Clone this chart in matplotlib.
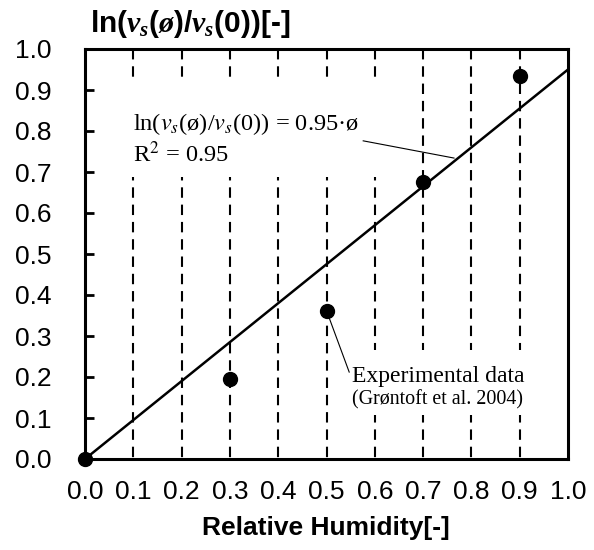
import numpy as np
import matplotlib
matplotlib.use('Agg')
import matplotlib.pyplot as plt
from matplotlib.patches import Rectangle

# datos experimentales (Grontoft et al. 2004)
rh = [0.0, 0.3, 0.5, 0.7, 0.9]
ln_vs = [0.0, 0.195, 0.36, 0.675, 0.935]
pendiente = 0.95  # ajuste lineal ln(vs(ø)/vs(0)) = 0.95·ø
r2 = 0.95
xticks = [0.0, 0.1, 0.2, 0.3, 0.4, 0.5, 0.6, 0.7, 0.8, 0.9, 1.0]
yticks = [0.0, 0.1, 0.2, 0.3, 0.4, 0.5, 0.6, 0.7, 0.8, 0.9, 1.0]

plt.rcParams['font.family'] = 'Liberation Sans'
plt.rcParams['mathtext.fontset'] = 'custom'
plt.rcParams['mathtext.rm'] = 'Liberation Serif:bold'
plt.rcParams['mathtext.it'] = 'Liberation Serif:italic:bold'
plt.rcParams['mathtext.bf'] = 'Liberation Serif:bold'

fig = plt.figure(figsize=(5.94, 5.50), dpi=100)
ax = fig.add_axes([85/594, 1-459/550, 483/594, 410/550])
ax.set_xlim(0, 1)
ax.set_ylim(0, 1)

# lineas verticales a trazos
ax.vlines(xticks[1:-1], 1.0, 0.0, colors='k', linewidth=1.5,
          linestyles=(0, (5, 3.3)), zorder=1)

# fondos blancos de los textos
ax.add_patch(Rectangle((0.083, 0.688), 0.53, 0.236, facecolor='white',
                       edgecolor='none', zorder=2))
ax.add_patch(Rectangle((0.528, 0.107), 0.395, 0.159, facecolor='white',
                       edgecolor='none', zorder=2))

xx = np.array([0.0, 1.0])
ax.plot(xx, pendiente*xx, color='k', linewidth=1.8, zorder=3)
ax.plot(rh, ln_vs, 'o', color='k', markersize=10, clip_on=False, zorder=4)

ax.text(0.10, 0.802, 'ln($v_s$(ø)/$v_s$(0)) = %.2f·ø' % pendiente, fontsize=17.6,
        family='Liberation Serif', math_fontfamily='stix', va='baseline', zorder=5)
ax.text(0.10, 0.724, 'R$^2$ = %.2f' % r2, fontsize=17.6, family='Liberation Serif',
        math_fontfamily='stix', va='baseline', zorder=5)
ax.plot([0.576, 0.764], [0.776, 0.734], color='k', linewidth=0.8, zorder=5)

ax.text(0.553, 0.188, 'Experimental data', fontsize=17, family='Liberation Serif',
        va='baseline', zorder=5)
ax.text(0.553, 0.134, '(Grøntoft et al. 2004)', fontsize=14.4,
        family='Liberation Serif', va='baseline', zorder=5)
ax.plot([0.505, 0.547], [0.346, 0.212], color='k', linewidth=0.8, zorder=5)

for s in ax.spines.values():
    s.set_linewidth(2.2)
ax.set_xticks(xticks)
ax.set_yticks(yticks)
ax.set_xticklabels(['%.1f' % v for v in xticks])
ax.set_yticklabels(['%.1f' % v for v in yticks])
ax.tick_params(axis='x', length=0, pad=15, labelsize=19)
ax.tick_params(axis='y', direction='in', length=6.5, width=2, pad=24, labelsize=19)

fig.text(90/594, 1-32/550, r'ln($v_s$($\mathit{ø}$)/$v_s$(0))[-]', fontsize=21.5,
         fontweight='bold', va='baseline', ha='left')
fig.text(326/594, 1-535/550, 'Relative Humidity[-]', fontsize=19,
         fontweight='bold', va='baseline', ha='center')

fig.savefig('out.png', dpi=100)
